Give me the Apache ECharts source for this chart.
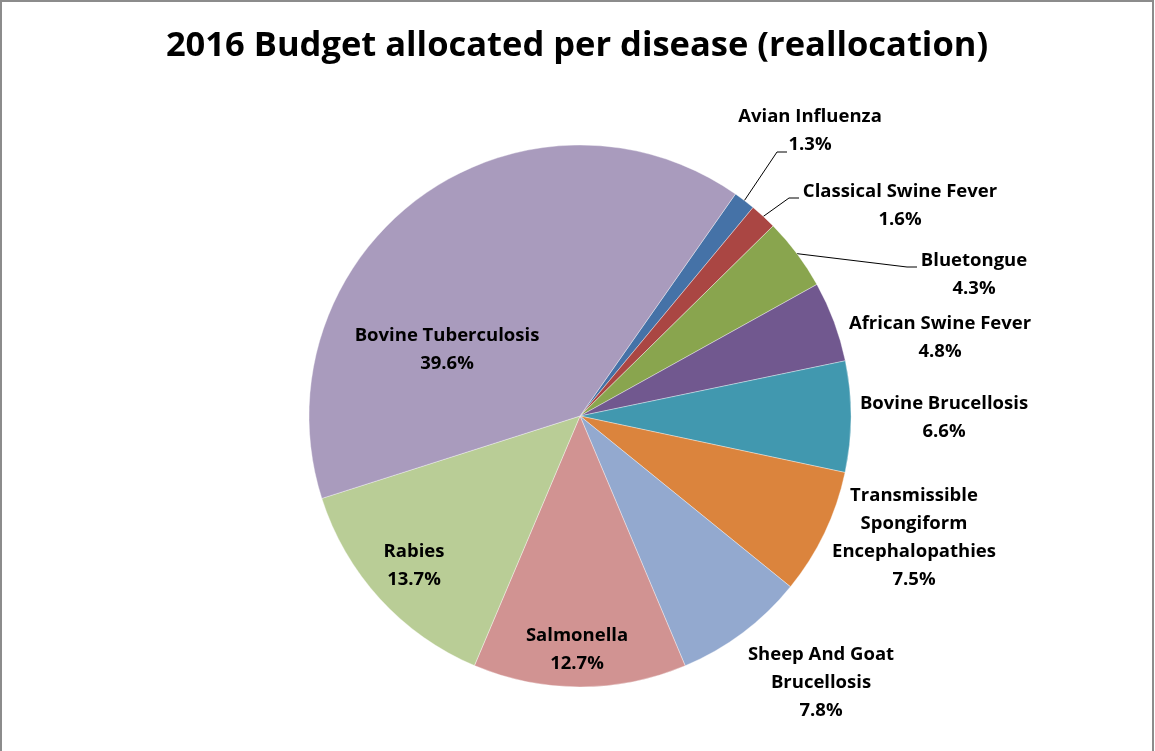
<!DOCTYPE html>
<html>
<head>
<meta charset="utf-8">
<script src="https://cdn.jsdelivr.net/npm/echarts@6/dist/echarts.min.js"></script>
<style>
  html, body { margin: 0; padding: 0; background: #fff; }
  #container {
    width: 1154px; height: 751px; box-sizing: border-box;
    border: 2px solid #8c8c8c; border-bottom: none;
  }
</style>
</head>
<body>
<div id="container"></div>
<script>
// data, clockwise from the Avian Influenza slice
let diseases = [
    'Avian Influenza', 'Classical Swine Fever', 'Bluetongue', 'African Swine Fever',
    'Bovine Brucellosis', 'Transmissible\nSpongiform\nEncephalopathies',
    'Sheep And Goat\nBrucellosis', 'Salmonella', 'Rabies', 'Bovine Tuberculosis'
];
let shares = [1.3, 1.6, 4.3, 4.8, 6.6, 7.5, 7.8, 12.7, 13.7, 39.6];
let colors = ['#4572a7', '#aa4643', '#89a54e', '#71588f', '#4198af',
              '#db843d', '#93a9cf', '#d19392', '#b9cd96', '#a99bbd'];

// where excel put each label (centre of the text block, px)
let labelSpots = [
    [808, 129], [898, 204], [972, 273], [938, 336], [942, 416],
    [912, 536], [819, 681], [575, 648], [412, 564], [445, 348]
];
// leader lines: index -> where the line meets the text
let lineEnds = { 0: [785, 150], 1: [797, 196], 2: [915, 265] };

let dom = document.getElementById("container");
let myChart = echarts.init(dom);

let labelFont = {
    fontFamily: 'Open Sans',
    fontWeight: 'bold',
    fontSize: 18.5,
    lineHeight: 28,
    color: '#000'
};

let pieData = shares.map(function (v, i) {
    return {
        name: diseases[i],
        value: v,
        itemStyle: { color: colors[i] },
        labelLine: { show: lineEnds[i] != null }
    };
});

option = {
    animation: false,
    title: {
        text: '2016 Budget allocated per disease (reallocation)',
        left: 'center',
        top: 22,
        textStyle: {
            fontFamily: 'Open Sans',
            fontWeight: 'bold',
            fontSize: 34.5,
            color: '#000'
        }
    },
    series: [
        {
            type: 'pie',
            center: [578, 414],
            radius: 271,
            startAngle: 55,
            clockwise: true,
            avoidLabelOverlap: false,
            itemStyle: {
                borderColor: 'rgba(255,255,255,0.6)',
                borderWidth: 0.6
            },
            label: {
                show: true,
                position: 'outside',
                alignTo: 'none',
                formatter: function (p) {
                    return '{t|' + p.name.split('\n').join('}\n{t|') + '}\n{t|' + p.value.toFixed(1) + '%}';
                },
                rich: {
                    t: Object.assign({ align: 'center' }, labelFont)
                }
            },
            labelLine: {
                length: 20,
                length2: 8,
                lineStyle: { color: '#000', width: 1 }
            },
            labelLayout: function (params) {
                let i = params.dataIndex;
                let s = labelSpots[i];
                let out = {
                    x: s[0],
                    y: s[1],
                    align: 'center',
                    verticalAlign: 'middle',
                    hideOverlap: false
                };
                let e = lineEnds[i];
                if (e && params.labelLinePoints) {
                    // start where the pie layout starts it, on the slice rim
                    let p0 = params.labelLinePoints[0];
                    out.labelLinePoints = [p0, [e[0] - 10, e[1]], e];
                }
                return out;
            },
            emphasis: { disabled: true },
            data: pieData
        }
    ]
};
if (option && typeof option === "object") {
    myChart.setOption(option, true);
}
</script>
</body>
</html>
